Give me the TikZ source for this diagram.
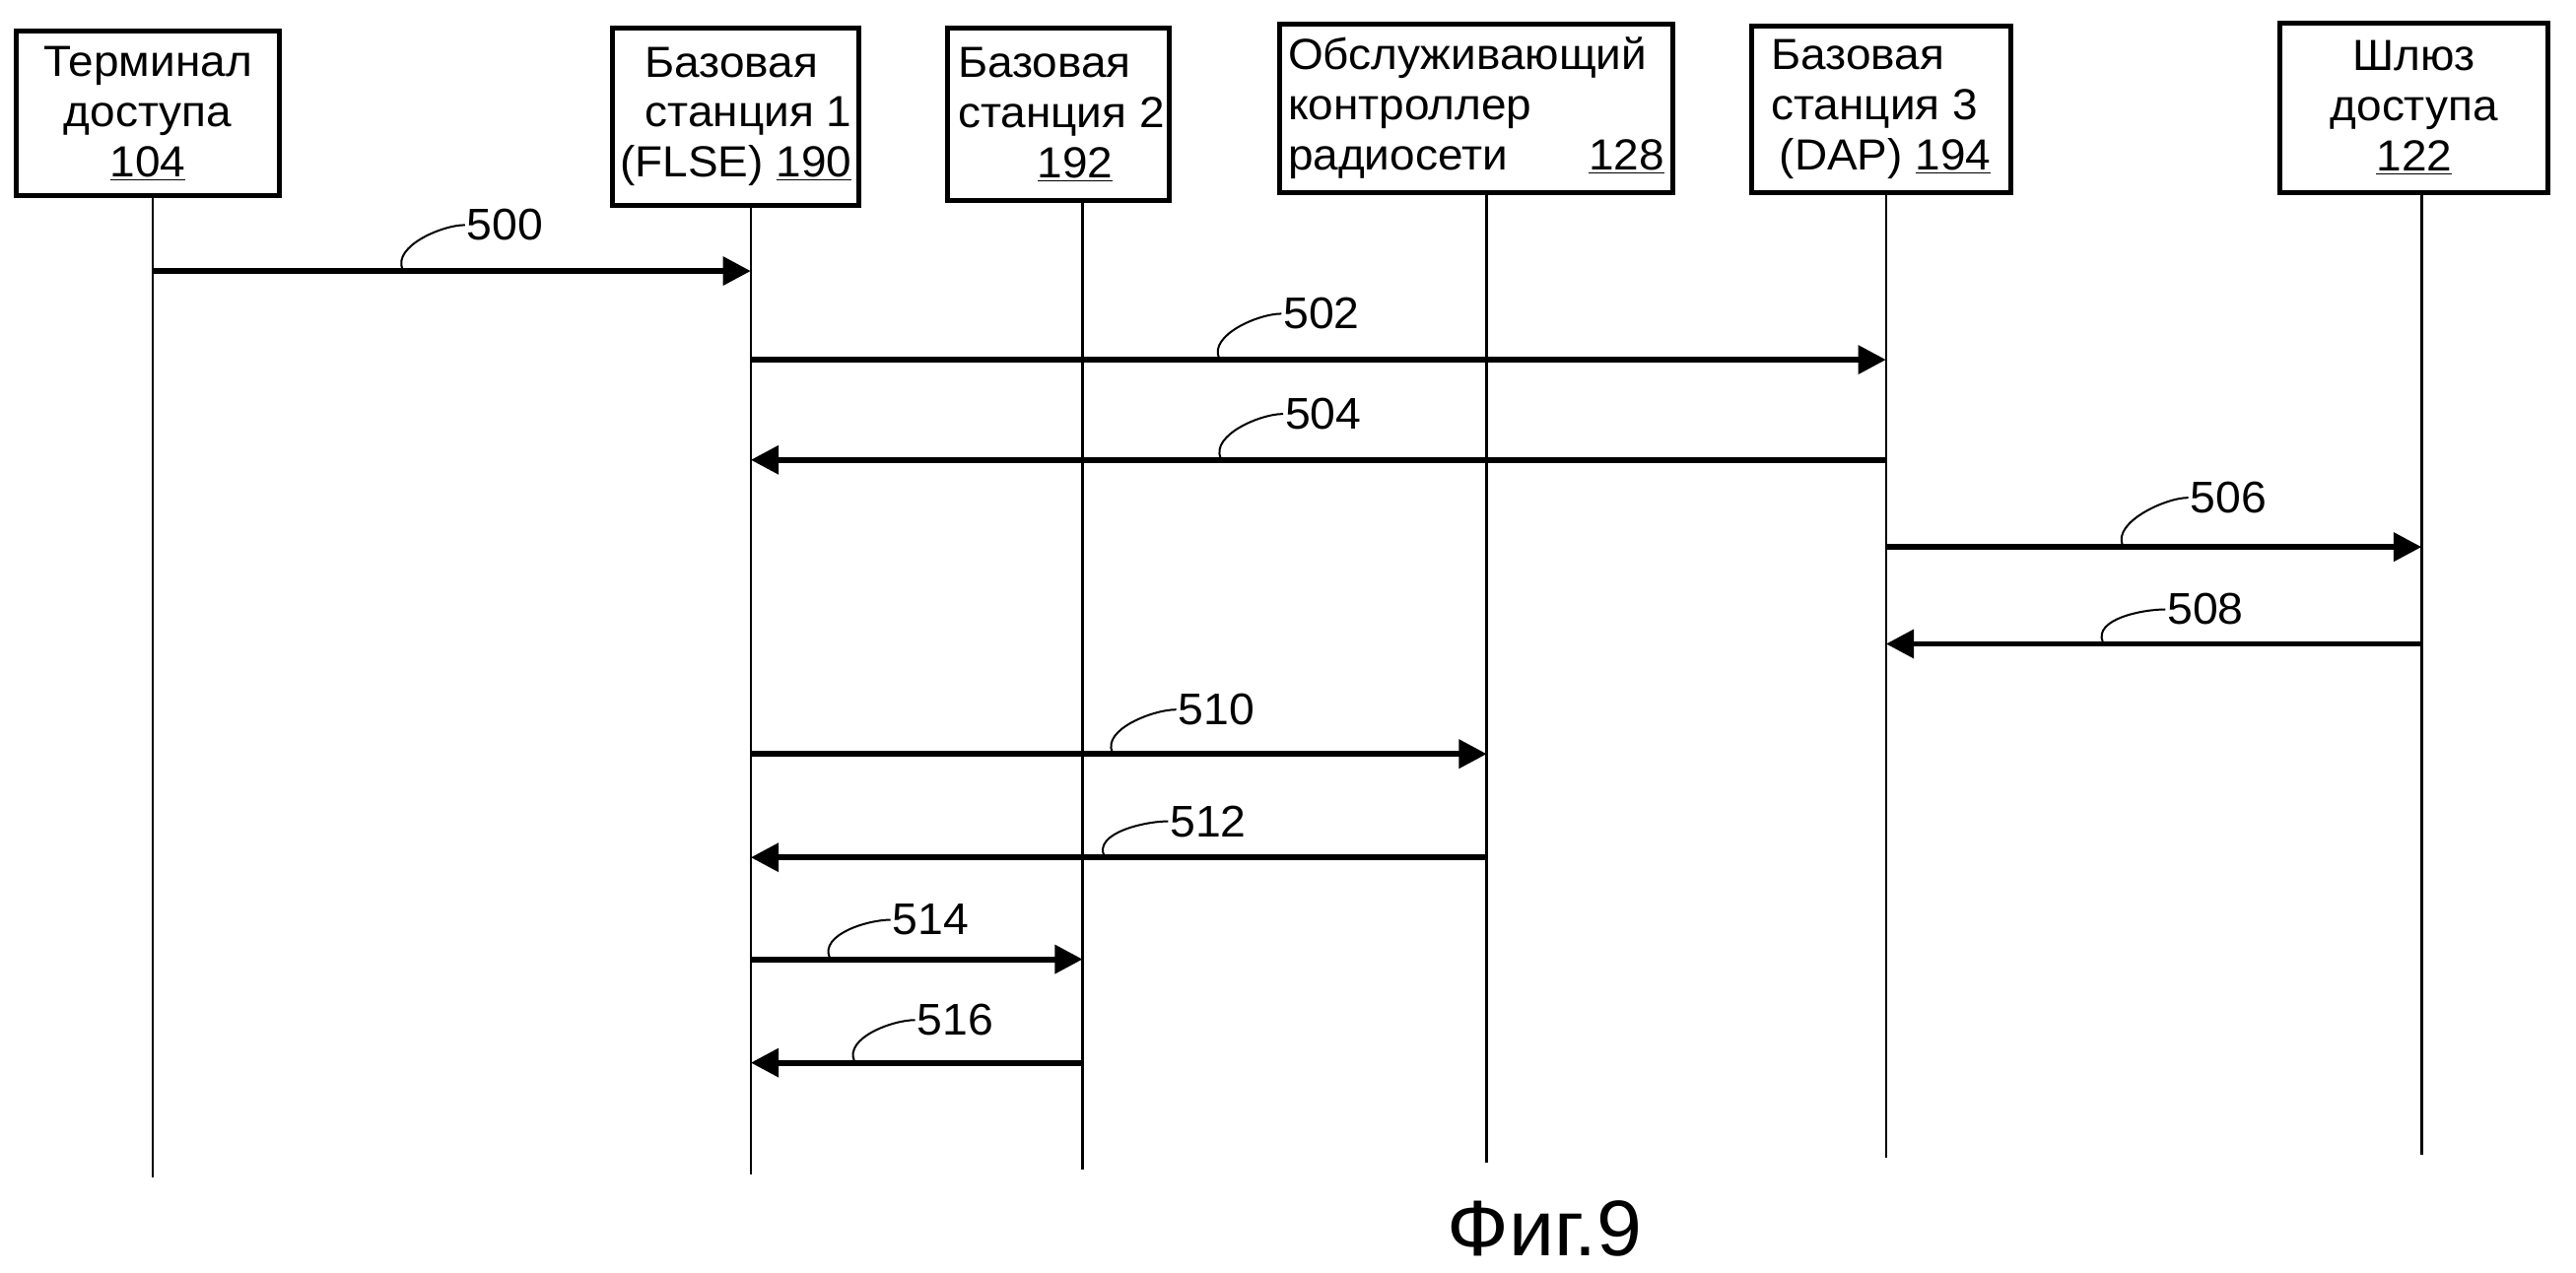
\documentclass[tikz,border=0pt]{standalone}
\usepackage{fontspec}
\setmainfont{Liberation Sans}
\newfontfamily\boxfont[FakeStretch=1.04]{Liberation Sans}
\newfontfamily\numfont[FakeStretch=1.03]{Liberation Sans}
\usetikzlibrary{arrows.meta}
\begin{document}
\begin{tikzpicture}[x=1pt,y=-1pt,
  box/.style={draw,line width=3pt,inner sep=0pt,align=center,font=\boxfont\fontsize{26.5}{30.5}\selectfont},
  life/.style={line width=1.5pt},
  msg/.style={line width=3.5pt,-{Triangle[length=17pt,width=17pt]}},
  lead/.style={line width=1.2pt},
  num/.style={font=\numfont\fontsize{27}{30}\selectfont,anchor=west,inner sep=1pt}]
\useasboundingbox[fill=white] (0,0) rectangle (1568,775);
% boxes
\node[box,minimum width=160pt,minimum height=100pt] (t) at (90,69) {Терминал\\доступа\\\underline{104}};
\node[box,minimum width=150pt,minimum height=108pt,align=right] (b1) at (448,71) {\rlap{Базовая}\phantom{станция 1}\\станция 1\\(FLSE) \underline{190}};
\node[box,minimum width=135pt,minimum height=105pt] (b2) at (644.5,69.5) {\hspace*{3pt}\rlap{Базовая}\phantom{станция 2}\\\hspace*{3pt}станция 2\\\hspace*{20pt}\underline{192}};
\node[box,minimum width=239pt,minimum height=103pt,align=left,text width=229pt] (rnc) at (898.5,66) {Обслуживающий\\контроллер\\радиосети\hskip 0pt plus 1filll\underline{128}};
\node[box,minimum width=158pt,minimum height=101pt,align=left] (b3) at (1145,66.5) {Базовая\\станция 3\\\hspace*{5pt}(DAP) \underline{194}};
\node[box,minimum width=163pt,minimum height=103pt] (gw) at (1469.5,65.5) {Шлюз\\доступа\\\underline{122}};
% lifelines
\coordinate (tb) at (93,717);
\coordinate (b1b) at (457,715);
\coordinate (b2b) at (659,712);
\coordinate (rb) at (905,708);
\coordinate (b3b) at (1148,705);
\coordinate (gb) at (1474,703);
\draw[life] (tb |- t.south) -- (tb);
\draw[life] (b1b |- b1.south) -- (b1b);
\draw[life] (b2b |- b2.south) -- (b2b);
\draw[life] (rb |- rnc.south) -- (rb);
\draw[life] (b3b |- b3.south) -- (b3b);
\draw[life] (gb |- gw.south) -- (gb);
% messages
\draw[msg] (tb |- 0,165) -- (b1b |- 0,165);
\draw[msg] (b1b |- 0,219) -- (b3b |- 0,219);
\draw[msg] (b3b |- 0,280) -- (b1b |- 0,280);
\draw[msg] (b3b |- 0,333) -- (gb |- 0,333);
\draw[msg] (gb |- 0,392) -- (b3b |- 0,392);
\draw[msg] (b1b |- 0,459) -- (rb |- 0,459);
\draw[msg] (rb |- 0,522) -- (b1b |- 0,522);
\draw[msg] (b1b |- 0,584) -- (b2b |- 0,584);
\draw[msg] (b2b |- 0,647) -- (b1b |- 0,647);
% labels
\node[num] (l500) at (283,137) {500};
\node[num] (l502) at (780,191) {502};
\node[num] (l504) at (781,252) {504};
\node[num] (l506) at (1332,303) {506};
\node[num] (l508) at (1318,371) {508};
\node[num] (l510) at (716,432) {510};
\node[num] (l512) at (711,500) {512};
\node[num] (l514) at (542,560) {514};
\node[num] (l516) at (557,621) {516};
\coordinate (s500) at (245,164);
\coordinate (s502) at (742,218);
\coordinate (s504) at (743,279);
\coordinate (s506) at (1292,332);
\coordinate (s508) at (1280,391);
\coordinate (s510) at (677,458);
\coordinate (s512) at (672,521);
\coordinate (s514) at (505,583);
\coordinate (s516) at (520,646);
\foreach \n in {500,502,504,506,508,510,512,514,516}
  \draw[lead] (s\n) .. controls +(-6,-14) and +(-14,0) .. (l\n.west);
% caption
\node[font=\numfont\fontsize{48}{56}\selectfont] (cap) at (940,748) {Фиг.9};
\end{tikzpicture}
\end{document}
